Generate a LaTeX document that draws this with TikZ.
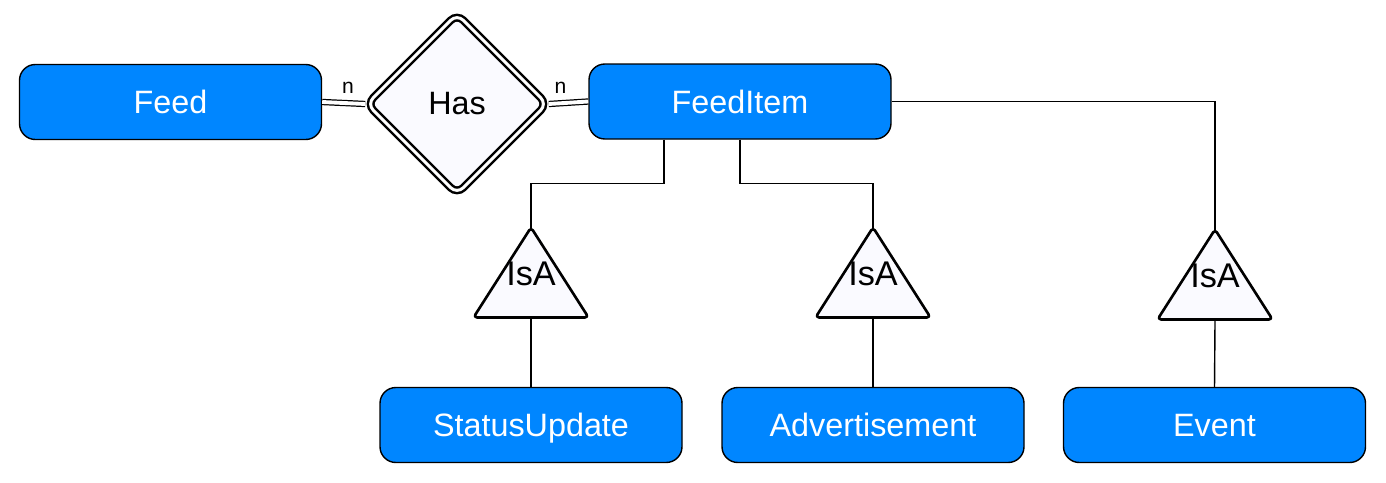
\documentclass[tikz,border=0pt]{standalone}
\usepackage{fontspec}
\setmainfont{Liberation Sans}
\usepackage{tikz}
\usetikzlibrary{shapes.geometric,calc}

\definecolor{entblue}{RGB}{0,134,255}
\definecolor{relfill}{RGB}{250,250,255}

\begin{document}
\begin{tikzpicture}[
    every node/.style={font=\fontsize{18.4}{21}\selectfont},
    ent/.style   ={rectangle,rounded corners=9pt,draw=black,line width=0.8pt,
                   fill=entblue,text=white,minimum width=6.04cm,
                   minimum height=1.5cm,align=center,
                   text height=13.2pt,text depth=0pt},
    rel/.style   ={diamond,rounded corners=5pt,draw=black,line width=1.4pt,
                   double=white,double distance=1.7pt,fill=relfill,
                   minimum width=3.62cm,minimum height=3.62cm,inner sep=0pt},
    isa/.style   ={isosceles triangle,isosceles triangle stretches,
                   shape border rotate=90,rounded corners=2pt,draw=black,
                   line width=1.5pt,line join=round,fill=relfill,
                   minimum width=2.3cm,minimum height=1.8cm,inner sep=0pt,
                   anchor=apex,
                   label={[anchor=center,yshift=0.9cm,
                           font=\fontsize{19.5}{22}\selectfont]south:IsA}},
    link/.style  ={draw=black,line width=0.8pt},
    dbl/.style   ={draw=black,line width=0.7pt,double=white,double distance=2.2pt},
    card/.style  ={font=\fontsize{12}{13}\selectfont,inner sep=1pt,yshift=4pt},
  ]
  \useasboundingbox (0,0) rectangle (27.72,-9.64);

  % Top row: feed, relationship, feed item
  \node[ent] (Feed)     at (3.41,-2.04)  {Feed};
  \node[rel] (Has)      at (9.14,-2.08)  {Has};
  \node[ent] (FeedItem) at (14.8,-2.03)  {FeedItem};

  % IsA triangles (placed by their apex)
  \node[isa] (IsA1) at (10.62,-4.48) {};
  \node[isa] (IsA2) at (17.46,-4.48) {};
  \node[isa] (IsA3) at (24.30,-4.52) {};

  % Bottom row: subtypes
  \node[ent] (Status) at (10.62,-8.5) {StatusUpdate};
  \node[ent] (Advert) at (17.46,-8.5) {Advertisement};
  \node[ent] (Event)  at (24.29,-8.5) {Event};

  % Has relationship (total participation)
  \draw[dbl] (Feed.east) -- node[card,above,pos=0.6]{n} (Has.west);
  \draw[dbl] (Has.east) -- node[card,above,pos=0.3]{n} (FeedItem.west);

  % Generalisation
  \draw[link,shorten >=-2pt] ($(FeedItem.south)+(-1.52,0)$) -- ++(0,-0.88) -| (IsA1.apex);
  \draw[link,shorten >=-2pt] (FeedItem.south) -- ++(0,-0.88) -| (IsA2.apex);
  \draw[link,shorten >=-2pt] (FeedItem.east) -| (IsA3.apex);

  \draw[link] (IsA1.south) -- (Status.north);
  \draw[link] (IsA2.south) -- (Advert.north);
  \draw[link] (IsA3.south) -- (Event.north);
\end{tikzpicture}
\end{document}
